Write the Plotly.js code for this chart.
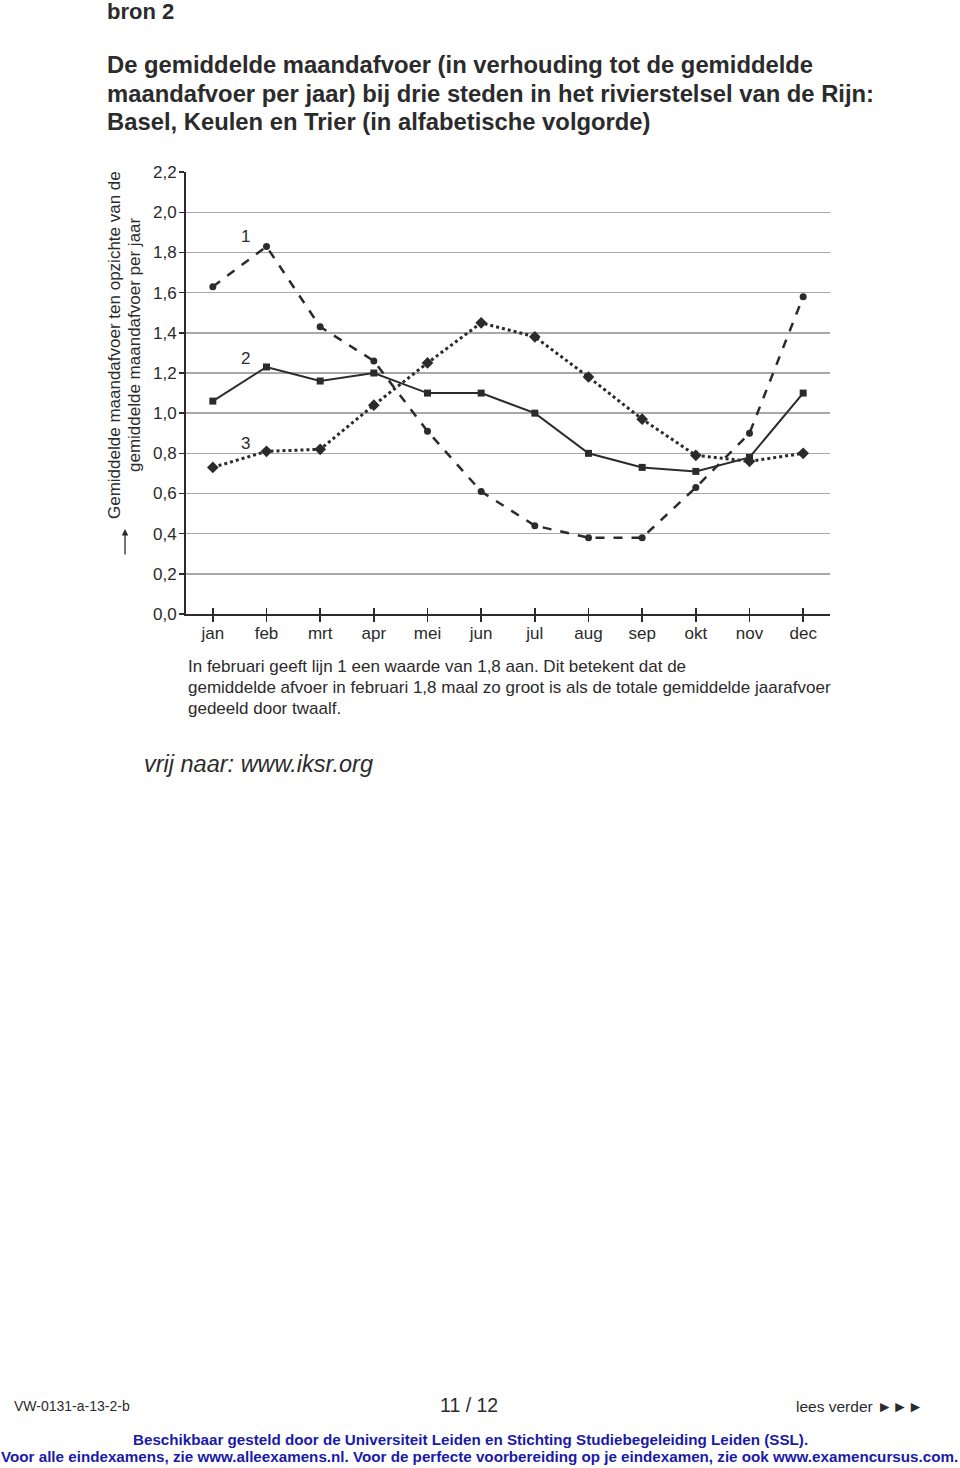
<!DOCTYPE html>
<html><head><meta charset="utf-8">
<script src="https://cdn.plot.ly/plotly-3.0.1.min.js"></script>
<style>body{margin:0;background:#fff}#chart{width:960px;height:1468px}</style>
</head><body><div id="chart"></div>
<script>
const months = ["jan","feb","mrt","apr","mei","jun","jul","aug","sep","okt","nov","dec"];
const lijn1 = [1.63,1.83,1.43,1.26,0.91,0.61,0.44,0.38,0.38,0.63,0.90,1.58];
const lijn2 = [1.06,1.23,1.16,1.20,1.10,1.10,1.00,0.80,0.73,0.71,0.78,1.10];
const lijn3 = [0.73,0.81,0.82,1.04,1.25,1.45,1.38,1.18,0.97,0.79,0.76,0.80];
const yTicks = [0,0.2,0.4,0.6,0.8,1.0,1.2,1.4,1.6,1.8,2.0,2.2];
const lineLabels = [{t:"1", m:1, v:1.88},{t:"2", m:1, v:1.27},{t:"3", m:1, v:0.85}];

const xi = months.map((m,i)=>i);
const F = '"Liberation Sans", Arial, sans-serif';
const C = '#2b2b2b';
const L=186, R=830, T=172, B=614;
const px = x => (x-L)/(R-L);
const py = y => (B-y)/(B-T);

const traces = [
 {x:xi, y:lijn1, mode:'lines+markers', line:{color:C,width:2.5,dash:'dash'}, marker:{symbol:'circle',size:7,color:C}},
 {x:xi, y:lijn2, mode:'lines+markers', line:{color:C,width:2}, marker:{symbol:'square',size:7,color:C}},
 {x:xi, y:lijn3, mode:'lines+markers', line:{color:C,width:3,dash:'dot'}, marker:{symbol:'diamond',size:9,color:C}},
 {x:xi, y:lijn3.map(()=>null), xaxis:'x2', mode:'lines', hoverinfo:'skip'}
];

function txt(x,y,text,size,opts){
  return Object.assign({xref:'paper',yref:'paper',x:px(x),y:py(y),text:text,showarrow:false,
    xanchor:'left',yanchor:'middle',font:{family:F,size:size,color:C}},opts||{});
}
const BF = {family:F,size:15.2,color:'#1a1aa8'};
const ann = [
 txt(105,12,"<b>bron 2</b>",22),
 txt(105,65,"<b>De gemiddelde maandafvoer (in verhouding tot de gemiddelde</b>",23.8),
 txt(105,94,"<b>maandafvoer per jaar) bij drie steden in het rivierstelsel van de Rijn:</b>",23.8),
 txt(105,122,"<b>Basel, Keulen en Trier (in alfabetische volgorde)</b>",23.8),
 txt(114,345,"Gemiddelde maandafvoer ten opzichte van de",17,{textangle:-90,xanchor:'center'}),
 txt(134,345,"gemiddelde maandafvoer per jaar",17,{textangle:-90,xanchor:'center'}),
 txt(186,666,"In februari geeft lijn 1 een waarde van 1,8 aan. Dit betekent dat de",17),
 txt(186,687,"gemiddelde afvoer in februari 1,8 maal zo groot is als de totale gemiddelde jaarafvoer",17),
 txt(186,708,"gedeeld door twaalf.",17),
 txt(142,764,"<i>vrij naar: www.iksr.org</i>",23.5),
 txt(12,1406,"VW-0131-a-13-2-b",14),
 txt(469,1405,"11 / 12",19.5,{xanchor:'center'}),
 txt(925,1406,"lees verder ►►►",15.5,{xanchor:'right'}),
 txt(470,1439,"<b>Beschikbaar gesteld door de Universiteit Leiden en Stichting Studiebegeleiding Leiden (SSL).</b>",15.2,{xanchor:'center',font:BF}),
 txt(479,1456,"<b>Voor alle eindexamens, zie www.alleexamens.nl. Voor de perfecte voorbereiding op je eindexamen, zie ook www.examencursus.com.</b>",15.2,{xanchor:'center',font:BF}),
 {xref:'paper',yref:'paper',x:px(125),y:py(529),ax:0,ay:27,axref:'pixel',ayref:'pixel',text:'',showarrow:true,arrowhead:2,arrowsize:1,arrowwidth:1.3,arrowcolor:C}
];
lineLabels.forEach(l=>ann.push({xref:'x',yref:'y',x:l.m-0.4,y:l.v,text:l.t,showarrow:false,font:{family:F,size:17,color:C}}));

const layout = {
 width:960, height:1468, separators:',.',
 margin:{l:L,r:960-R,t:T,b:1468-B}, showlegend:false,
 paper_bgcolor:'#fff', plot_bgcolor:'#fff',
 font:{family:F,size:17,color:C},
 xaxis:{range:[-0.5,11.5], tickvals:xi, ticktext:months, ticks:'outside', ticklen:6, tickwidth:1.5, tickcolor:C,
   ticklabelstandoff:-3,
   showgrid:false, zeroline:false, showline:true, linecolor:C, linewidth:2, tickfont:{size:17,color:C}, fixedrange:true},
 xaxis2:{overlaying:'x', range:[-0.5,11.5], tickvals:xi, ticks:'inside', ticklen:6, tickwidth:1.5, tickcolor:C,
   showticklabels:false, showgrid:false, zeroline:false, showline:false, side:'bottom', anchor:'y'},
 yaxis:{range:[0,2.2008], tickvals:yTicks, tickformat:'.1f', ticks:'outside', ticklen:5, tickwidth:1.5, tickcolor:C,
   ticklabelstandoff:-1,
   showgrid:true, gridcolor:'#a8a8a8', gridwidth:1.5, zeroline:false, showline:true, linecolor:C, linewidth:2,
   tickfont:{size:17,color:C}, fixedrange:true},
 annotations:ann
};
Plotly.newPlot('chart', traces, layout, {displayModeBar:false, staticPlot:true});
</script></body></html>
